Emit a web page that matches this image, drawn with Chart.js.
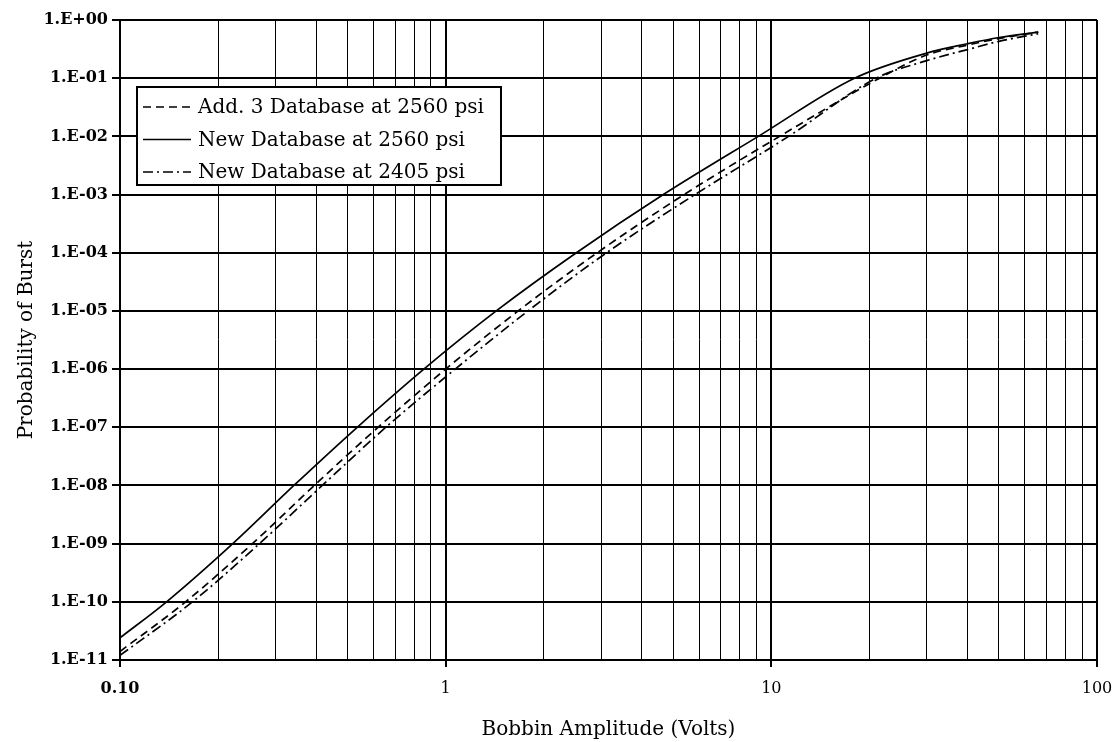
<!DOCTYPE html>
<html>
<head>
<meta charset="utf-8">
<script src="https://cdn.jsdelivr.net/npm/chart.js@4.4.1/dist/chart.umd.min.js"></script>
<style>
  html, body { margin: 0; padding: 0; background: #fff; }
  #wrap { width: 1119px; height: 742px; position: relative; }
</style>
</head>
<body>
<div id="wrap"><canvas id="c" width="1119" height="742"></canvas></div>
<script>
// ---- data ----
const seriesNames = [
  'Add. 3 Database at 2560 psi',
  'New Database at 2560 psi',
  'New Database at 2405 psi'
];
// Add. 3 Database at 2560 psi (dashed)
const add3Volts = [0.1, 0.159, 0.255, 0.395, 0.62, 1.0, 1.67, 2.92, 5.4, 10.6, 21.5, 30, 40, 50, 66];
const add3Prob  = [1.4e-11, 1e-10, 1e-9, 1e-8, 1e-7, 1e-6, 1e-5, 1e-4, 1e-3, 1e-2, 1e-1, 0.25, 0.37, 0.48, 0.62];
// New Database at 2560 psi (solid)
const new2560Volts = [0.1, 0.139, 0.222, 0.342, 0.535, 0.857, 1.43, 2.52, 4.66, 9.12, 18.0, 30, 40, 50, 66];
const new2560Prob  = [2.4e-11, 1e-10, 1e-9, 1e-8, 1e-7, 1e-6, 1e-5, 1e-4, 1e-3, 1e-2, 1e-1, 0.27, 0.39, 0.5, 0.62];
// New Database at 2405 psi (dash-dot)
const new2405Volts = [0.1, 0.167, 0.268, 0.418, 0.655, 1.07, 1.79, 3.12, 5.83, 11.3, 21.0, 30, 40, 50, 66];
const new2405Prob  = [1.2e-11, 1e-10, 1e-9, 1e-8, 1e-7, 1e-6, 1e-5, 1e-4, 1e-3, 1e-2, 1e-1, 0.2, 0.31, 0.43, 0.58];

const xTickValues = [0.1, 1, 10, 100];
const xTickLabels = ['0.10', '1', '10', '100'];
const yTickValues = [1, 1e-1, 1e-2, 1e-3, 1e-4, 1e-5, 1e-6, 1e-7, 1e-8, 1e-9, 1e-10, 1e-11];
const yTickLabels = ['1.E+00', '1.E-01', '1.E-02', '1.E-03', '1.E-04', '1.E-05', '1.E-06', '1.E-07', '1.E-08', '1.E-09', '1.E-10', '1.E-11'];

const xAxisTitle = 'Bobbin Amplitude (Volts)';
const yAxisTitle = 'Probability of Burst';

// ---- helpers ----
const toPts = (xs, ys) => xs.map((x, i) => ({ x: x, y: ys[i] }));
const dashes = [[8, 5], [], [10, 4, 2, 4]];
const isDecade = v => Math.abs(Math.log10(v) - Math.round(Math.log10(v))) < 1e-6;

const xMinorTicks = [];
for (let d = -1; d < 2; d++) {
  for (let m = 1; m <= 9; m++) xMinorTicks.push(+(m * Math.pow(10, d)).toPrecision(3));
}
xMinorTicks.push(100);

const serif = '"DejaVu Serif", "Liberation Serif", serif';

const legendPlugin = {
  id: 'insideLegend',
  afterDraw(chart) {
    const ctx = chart.ctx;
    const x0 = 137, y0 = 87, w = 364, h = 98;
    ctx.save();
    ctx.fillStyle = '#fff';
    ctx.fillRect(x0, y0, w, h);
    ctx.lineWidth = 2;
    ctx.strokeStyle = '#000';
    ctx.strokeRect(x0, y0, w, h);
    ctx.font = '20px ' + serif;
    ctx.textBaseline = 'middle';
    ctx.fillStyle = '#000';
    const rows = [107, 139.5, 172];
    chart.data.datasets.forEach((ds, i) => {
      const y = rows[i];
      ctx.beginPath();
      ctx.setLineDash(ds.borderDash || []);
      ctx.lineWidth = 1.7;
      ctx.moveTo(x0 + 6, y);
      ctx.lineTo(x0 + 54, y);
      ctx.stroke();
      ctx.setLineDash([]);
      ctx.fillText(ds.label, x0 + 61, y + 1);
    });
    ctx.restore();
  }
};

const chart = new Chart(document.getElementById('c'), {
  type: 'scatter',
  data: {
    datasets: [
      { label: seriesNames[0], data: toPts(add3Volts, add3Prob), borderDash: dashes[0] },
      { label: seriesNames[1], data: toPts(new2560Volts, new2560Prob), borderDash: dashes[1] },
      { label: seriesNames[2], data: toPts(new2405Volts, new2405Prob), borderDash: dashes[2] }
    ].map(d => Object.assign(d, {
      showLine: true, pointRadius: 0, borderColor: '#000', backgroundColor: '#000',
      borderWidth: 1.7, cubicInterpolationMode: 'monotone', fill: false
    }))
  },
  options: {
    responsive: false,
    animation: false,
    layout: { padding: { top: 20, right: 22, left: 0, bottom: 0 } },
    plugins: { legend: { display: false }, tooltip: { enabled: false } },
    scales: {
      x: {
        type: 'logarithmic', min: 0.1, max: 100,
        afterBuildTicks: s => { s.ticks = xMinorTicks.map(v => ({ value: v })); },
        afterFit: s => { s.height = 82; s.paddingLeft = 0; s.paddingRight = 0; },
        border: { display: true, color: '#000', width: 2 },
        grid: {
          color: '#000',
          lineWidth: c => (c.tick && isDecade(c.tick.value)) ? 2 : 1,
          drawTicks: true, tickLength: 7,
          tickColor: c => (c.tick && isDecade(c.tick.value)) ? '#000' : 'rgba(0,0,0,0)',
          tickWidth: 2
        },
        ticks: {
          autoSkip: false, maxRotation: 0, padding: 12, color: '#000',
          font: c => ({ family: serif, size: 16, weight: (c.tick && c.tick.value === 0.1) ? 'bold' : 'normal' }),
          callback: v => { const i = xTickValues.findIndex(t => Math.abs(t - v) < 1e-9); return i >= 0 ? xTickLabels[i] : ''; }
        },
        title: { display: true, text: xAxisTitle, color: '#000', font: { family: serif, size: 20 }, padding: { top: 7, bottom: 0 } }
      },
      y: {
        type: 'logarithmic', min: 1e-11, max: 1,
        afterBuildTicks: s => { s.ticks = yTickValues.map(v => ({ value: v })); },
        afterFit: s => { s.width = 120; s.paddingTop = 0; s.paddingBottom = 0; },
        border: { display: true, color: '#000', width: 2 },
        grid: { color: '#000', lineWidth: 2, drawTicks: true, tickLength: 8, tickColor: '#000', tickWidth: 2 },
        ticks: {
          autoSkip: false, padding: 4, color: '#000',
          font: { family: serif, size: 16, weight: 'bold' },
          callback: v => { const i = yTickValues.findIndex(t => Math.abs(Math.log10(t) - Math.log10(v)) < 1e-6); return i >= 0 ? yTickLabels[i] : ''; }
        },
        title: { display: true, text: yAxisTitle, color: '#000', font: { family: serif, size: 20 }, padding: { top: 15, bottom: 0 } }
      }
    }
  },
  plugins: [legendPlugin]
});
</script>
</body>
</html>
